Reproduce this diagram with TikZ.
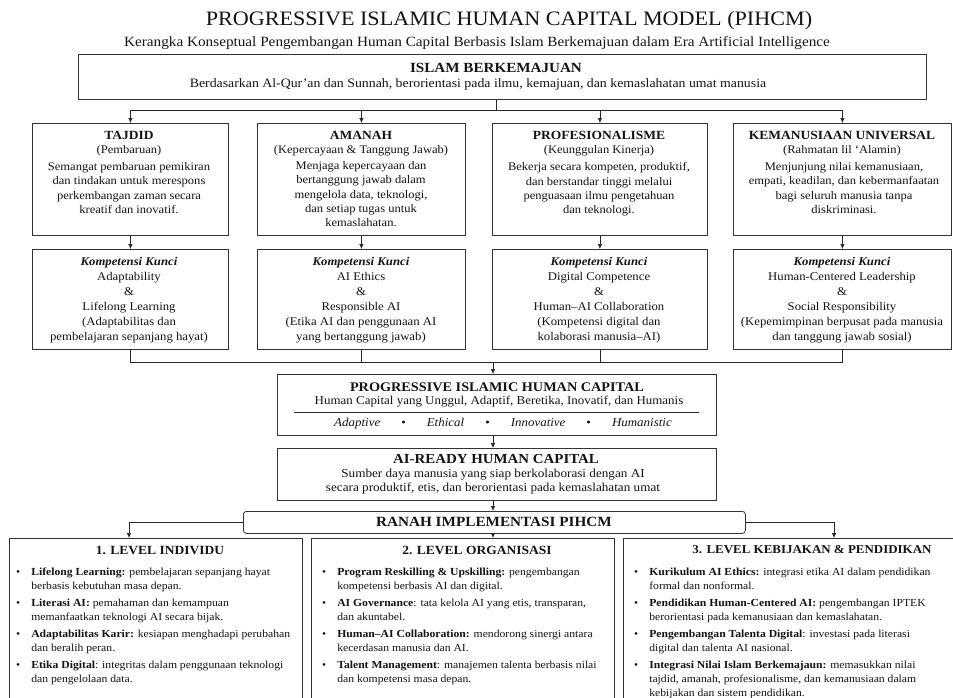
\documentclass[tikz,border=0pt]{standalone}
\usepackage{fontspec}
\setmainfont[FakeStretch=1.08]{Liberation Serif}
\usetikzlibrary{arrows.meta}
\newcommand\fsz[2]{\fontsize{#1}{#2}\selectfont}
\begin{document}
\begin{tikzpicture}[x=1pt,y=-1pt,
  box/.style={draw=black!80, line width=0.8pt, fill=white, inner sep=0pt, anchor=north west},
  ln/.style={draw=black!85, line width=0.7pt},
  arr/.style={ln, -{Latex[length=5pt,width=4.5pt]}},
  txt/.style={inner sep=0pt, align=center, text=black!92},
  head/.style={txt, font=\fsz{12.5}{15}\bfseries},
  sub/.style={txt, font=\fsz{11.6}{14}},
  body/.style={txt, anchor=north, font=\fsz{11.6}{14.3}},
  komp/.style={txt, anchor=north, font=\fsz{11.8}{15}},
  lvl/.style={txt, font=\fsz{12.5}{15}\bfseries},
  blist/.style={inner sep=0pt, anchor=north west, align=left, text=black!92, font=\fsz{10.8}{14}},
]
\useasboundingbox (0,0) rectangle (953,697);
\clip (0,0) rectangle (953,697);
\fill[white] (0,0) rectangle (953,697);

% title
\node[txt, font=\fsz{20.5}{24}] (title) at (509,21) {PROGRESSIVE ISLAMIC HUMAN CAPITAL MODEL (PIHCM)};
\node[txt, font=\fsz{14.1}{16}] (subtitle) at (477,43) {Kerangka Konseptual Pengembangan Human Capital Berbasis Islam Berkemajuan dalam Era Artificial Intelligence};

% top box
\node[box, minimum width=848pt, minimum height=45pt] (top) at (78,54) {};
\node[txt, font=\fsz{14}{16}\bfseries] (topt) at (496,68) {ISLAM BERKEMAJUAN};
\node[txt, font=\fsz{12.8}{15}] (tops) at (478,84) {Berdasarkan Al-Qur’an dan Sunnah, berorientasi pada ilmu, kemajuan, dan kemaslahatan umat manusia};

% pillar boxes
\node[box, minimum width=196pt, minimum height=112pt] (tajdid) at (32,123) {};
\node[box, minimum width=208pt, minimum height=112pt] (amanah) at (257,123) {};
\node[box, minimum width=215pt, minimum height=112pt] (prof) at (492,123) {};
\node[box, minimum width=218pt, minimum height=112pt] (keman) at (733,123) {};

\node[head] (tajdidh) at (129,135) {TAJDID};
\node[sub] (tajdids) at (129,151) {(Pembaruan)};
\node[body] (tajdidb) at (129,162.4) {Semangat pembaruan pemikiran\\dan tindakan untuk merespons\\perkembangan zaman secara\\kreatif dan inovatif.};

\node[head] (amanahh) at (361,135) {AMANAH};
\node[sub] (amanahs) at (361,151) {(Kepercayaan \& Tanggung Jawab)};
\node[body] (amanahb) at (361,161.4) {Menjaga kepercayaan dan\\bertanggung jawab dalam\\mengelola data, teknologi,\\dan setiap tugas untuk\\kemaslahatan.};

\node[head] (profh) at (599,135) {PROFESIONALISME};
\node[sub] (profs) at (599,151) {(Keunggulan Kinerja)};
\node[body] (profb) at (599,162.4) {Bekerja secara kompeten, produktif,\\dan berstandar tinggi melalui\\penguasaan ilmu pengetahuan\\dan teknologi.};

\node[head] (kemanh) at (842,135) {KEMANUSIAAN UNIVERSAL};
\node[sub] (kemans) at (842,151) {(Rahmatan lil ‘Alamin)};
\node[body] (kemanb) at (844,162.4) {Menjunjung nilai kemanusiaan,\\empati, keadilan, dan kebermanfaatan\\bagi seluruh manusia tanpa\\diskriminasi.};

% kompetensi boxes
\node[box, minimum width=196pt, minimum height=100pt] (ktajdid) at (32,249) {};
\node[box, minimum width=208pt, minimum height=100pt] (kamanah) at (257,249) {};
\node[box, minimum width=215pt, minimum height=100pt] (kprof) at (492,249) {};
\node[box, minimum width=218pt, minimum height=100pt] (kkeman) at (733,249) {};

\node[komp] (ktajdidt) at (129,257.3) {\textbf{\textit{Kompetensi Kunci}}\\Adaptability\\\&\\Lifelong Learning\\(Adaptabilitas dan\\pembelajaran sepanjang hayat)};
\node[komp] (kamanaht) at (361,257.3) {\textbf{\textit{Kompetensi Kunci}}\\AI Ethics\\\&\\Responsible AI\\(Etika AI dan penggunaan AI\\yang bertanggung jawab)};
\node[komp] (kproft) at (599,257.3) {\textbf{\textit{Kompetensi Kunci}}\\Digital Competence\\\&\\Human–AI Collaboration\\(Kompetensi digital dan\\kolaborasi manusia–AI)};
\node[komp] (kkemant) at (842,257.3) {\textbf{\textit{Kompetensi Kunci}}\\Human-Centered Leadership\\\&\\Social Responsibility\\(Kepemimpinan berpusat pada manusia\\dan tanggung jawab sosial)};

% central boxes
\node[box, minimum width=439pt, minimum height=61pt] (pihc) at (277,374) {};
\node[txt, font=\fsz{13.2}{15}\bfseries] (pihct) at (497,387) {PROGRESSIVE ISLAMIC HUMAN CAPITAL};
\node[txt, font=\fsz{12}{14}] (pihcs) at (499,402) {Human Capital yang Unggul, Adaptif, Beretika, Inovatif, dan Humanis};
\draw[ln, line width=0.6pt] (294,412) -- (699,412);
\node[txt, font=\fsz{12}{14}\itshape] (pihcv) at (503,424) {Adaptive\hspace{21pt}\textup{•}\hspace{21pt}Ethical\hspace{21pt}\textup{•}\hspace{21pt}Innovative\hspace{21pt}\textup{•}\hspace{21pt}Humanistic};

\node[box, minimum width=439pt, minimum height=52pt] (ai) at (277,448) {};
\node[txt, font=\fsz{13.8}{16}\bfseries] (ait) at (496,459) {AI-READY HUMAN CAPITAL};
\node[txt, anchor=north, font=\fsz{12.2}{14}] (ais) at (493,469.2) {Sumber daya manusia yang siap berkolaborasi dengan AI\\secara produktif, etis, dan berorientasi pada kemaslahatan umat};

\node[box, rounded corners=3pt, minimum width=502pt, minimum height=22pt] (ranah) at (243,511) {};
\node[txt, font=\fsz{14.1}{16}\bfseries] (ranaht) at (494,522) {RANAH IMPLEMENTASI PIHCM};

% bottom boxes
\node[box, minimum width=293pt, minimum height=200pt] (b1) at (9,538) {};
\node[box, minimum width=303pt, minimum height=200pt] (b2) at (311,538) {};
\node[box, minimum width=382pt, minimum height=200pt] (b3) at (623,538) {};

\node[lvl] (b1h) at (160,550) {1. LEVEL INDIVIDU};
\node[lvl] (b2h) at (477,550) {2. LEVEL ORGANISASI};
\node[lvl, font=\fsz{12}{14}\bfseries] (b3h) at (812,550) {3. LEVEL KEBIJAKAN \& PENDIDIKAN};

\node[blist] (b1l) at (16,565) {\begin{tabular}{@{}l@{\hspace{11pt}}l@{}}
•&\textbf{Lifelong Learning:} pembelajaran sepanjang hayat\\
&berbasis kebutuhan masa depan.\\[3pt]
•&\textbf{Literasi AI:} pemahaman dan kemampuan\\
&memanfaatkan teknologi AI secara bijak.\\[3pt]
•&\textbf{Adaptabilitas Karir:} kesiapan menghadapi perubahan\\
&dan beralih peran.\\[3pt]
•&\textbf{Etika Digital}: integritas dalam penggunaan teknologi\\
&dan pengelolaan data.
\end{tabular}};

\node[blist] (b2l) at (322,565) {\begin{tabular}{@{}l@{\hspace{11pt}}l@{}}
•&\textbf{Program Reskilling \& Upskilling:} pengembangan\\
&kompetensi berbasis AI dan digital.\\[3pt]
•&\textbf{AI Governance}: tata kelola AI yang etis, transparan,\\
&dan akuntabel.\\[3pt]
•&\textbf{Human–AI Collaboration:} mendorong sinergi antara\\
&kecerdasan manusia dan AI.\\[3pt]
•&\textbf{Talent Management}: manajemen talenta berbasis nilai\\
&dan kompetensi masa depan.
\end{tabular}};

\node[blist] (b3l) at (634,565) {\begin{tabular}{@{}l@{\hspace{11pt}}l@{}}
•&\textbf{Kurikulum AI Ethics:} integrasi etika AI dalam pendidikan\\
&formal dan nonformal.\\[3pt]
•&\textbf{Pendidikan Human-Centered AI:} pengembangan IPTEK\\
&berorientasi pada kemanusiaan dan kemaslahatan.\\[3pt]
•&\textbf{Pengembangan Talenta Digital}: investasi pada literasi\\
&digital dan talenta AI nasional.\\[3pt]
•&\textbf{Integrasi Nilai Islam Berkemajaun:} memasukkan nilai\\
&tajdid, amanah, profesionalisme, dan kemanusiaan dalam\\
&kebijakan dan sistem pendidikan.
\end{tabular}};

% connectors
\coordinate (j1) at (496,110);
\draw[ln] (top.south -| j1) -- (j1);
\draw[ln] (tajdid.north |- j1) -- (keman.north |- j1);
\foreach \n in {tajdid,amanah,prof,keman} {
  \draw[arr] (\n.north |- j1) -- (\n.north);
  \draw[arr] (\n.south) -- (k\n.north);
}
\coordinate (j2) at (493,362);
\draw[ln] (ktajdid.south) |- (kkeman.south |- j2) -- (kkeman.south);
\draw[ln] (kamanah.south) -- (kamanah.south |- j2);
\draw[ln] (kprof.south) -- (kprof.south |- j2);
\draw[arr] (j2) -- (j2 |- pihc.north);
\draw[arr] (pihc.south -| j2) -- (ai.north -| j2);
\draw[arr] (ai.south -| j2) -- (ranah.north -| j2);
\draw[arr] (ranah.south -| j2) -- (b2.north -| j2);
\coordinate (b1in) at (129,538);
\coordinate (b3in) at (834,538);
\draw[arr] (ranah.west) -| (b1in);
\draw[arr] (ranah.east) -| (b3in);
\end{tikzpicture}
\end{document}
